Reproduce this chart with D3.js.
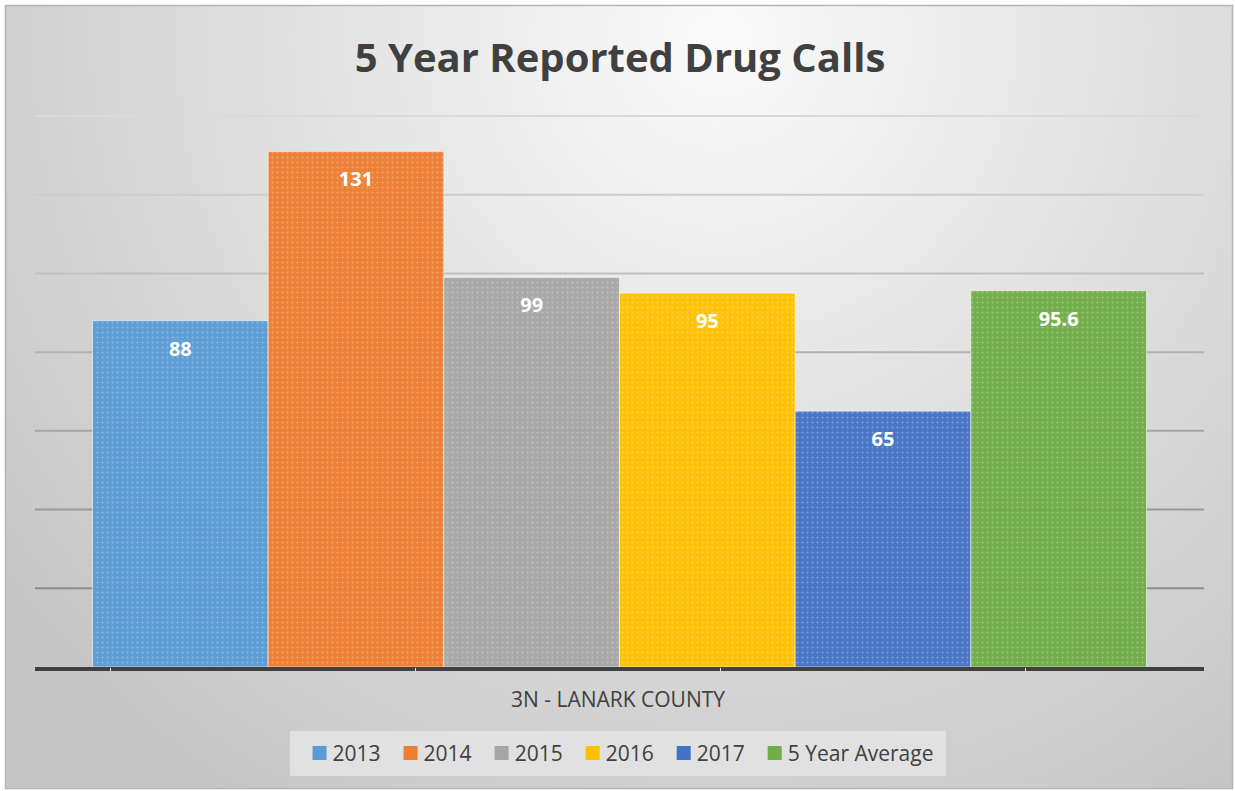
<!DOCTYPE html>
<html>
<head>
<meta charset="utf-8">
<script src="https://cdn.jsdelivr.net/npm/d3@7"></script>
<style>
    html, body { margin: 0; padding: 0; background: #ffffff; }
    svg { display: block; font-family: 'Open Sans', sans-serif; }
</style>
</head>
<body>
<div id="chart"></div>
<script>
// chart data
const titleText = '5 Year Reported Drug Calls';
const categoryLabel = '3N - LANARK COUNTY';
const seriesNames = ['2013', '2014', '2015', '2016', '2017', '5 Year Average'];
const seriesValues = [88, 131, 99, 95, 65, 95.6];
const seriesColors = ['#5b9bd5', '#ed7d31', '#a5a5a5', '#ffc000', '#4472c4', '#70ad47'];
const gridValues = [20, 40, 60, 80, 100, 120, 140];
const axisTickIndex = [0, 1, 2, 3];

const width = 1235;
const height = 791;

const svg = d3.select('#chart')
    .append('svg')
    .attr('width', width)
    .attr('height', height);

const defs = svg.append('defs');

// background gradient, light near the title
const bgGrad = defs.append('radialGradient')
    .attr('id', 'bg-grad')
    .attr('gradientUnits', 'userSpaceOnUse')
    .attr('cx', 720).attr('cy', 40).attr('r', 900);
bgGrad.append('stop').attr('offset', '0%').attr('stop-color', '#fbfbfb');
bgGrad.append('stop').attr('offset', '45%').attr('stop-color', '#e2e2e2');
bgGrad.append('stop').attr('offset', '100%').attr('stop-color', '#c6c6c6');

// small cross texture on the bars
const tex = defs.append('pattern')
    .attr('id', 'texture')
    .attr('patternUnits', 'userSpaceOnUse')
    .attr('width', 5).attr('height', 5);
tex.append('rect').attr('x', 2).attr('y', 1).attr('width', 1).attr('height', 3)
    .attr('fill', '#ffffff').attr('opacity', 0.14);
tex.append('rect').attr('x', 1).attr('y', 2).attr('width', 3).attr('height', 1)
    .attr('fill', '#ffffff').attr('opacity', 0.14);

// background + frame
svg.append('rect')
    .attr('x', 5.5).attr('y', 5.5)
    .attr('width', 1227).attr('height', 783)
    .attr('fill', 'url(#bg-grad)')
    .attr('stroke', '#b4b4b4')
    .attr('stroke-width', 1.5);

// scales
const y = d3.scaleLinear()
    .domain([0, 140])
    .range([667, 116]);

const x = d3.scaleBand()
    .domain(seriesNames)
    .range([92.5, 1146.5])
    .paddingInner(0)
    .paddingOuter(0);

const plotLeft = 35;
const plotRight = 1204;

const gridColor = d3.scaleLinear()
    .domain([20, 140])
    .range(['#8c8c8c', '#dadada']);

// gridlines
svg.append('g')
    .selectAll('line')
    .data(gridValues)
    .join('line')
    .attr('x1', plotLeft)
    .attr('x2', plotRight)
    .attr('y1', d => y(d))
    .attr('y2', d => y(d))
    .attr('stroke', d => gridColor(d))
    .attr('stroke-width', 2);

// bars
const bars = svg.append('g')
    .selectAll('g')
    .data(seriesNames.map((name, i) => ({ name, value: seriesValues[i], color: seriesColors[i] })))
    .join('g');

bars.append('rect')
    .attr('x', d => x(d.name))
    .attr('y', d => y(d.value))
    .attr('width', x.bandwidth())
    .attr('height', d => y(0) - y(d.value))
    .attr('fill', d => d.color)
    .attr('fill-opacity', 0.96);

bars.append('rect')
    .attr('x', d => x(d.name))
    .attr('y', d => y(d.value))
    .attr('width', x.bandwidth())
    .attr('height', d => y(0) - y(d.value))
    .attr('fill', 'url(#texture)')
    .attr('stroke', 'rgba(255,255,255,0.55)')
    .attr('stroke-width', 1);

// value labels
bars.append('text')
    .attr('x', d => x(d.name) + x.bandwidth() / 2)
    .attr('y', d => y(d.value) + 35)
    .attr('text-anchor', 'middle')
    .attr('fill', '#ffffff')
    .attr('font-weight', 700)
    .attr('font-size', '20px')
    .text(d => d.value);

// category axis line
svg.append('line')
    .attr('x1', plotLeft)
    .attr('x2', plotRight)
    .attr('y1', y(0) + 2)
    .attr('y2', y(0) + 2)
    .attr('stroke', '#404040')
    .attr('stroke-width', 4);

// small tick marks on the axis
const tickX = d3.scaleLinear().domain([0, 1]).range([110.5, 415.5]);
svg.append('g')
    .selectAll('line')
    .data(axisTickIndex)
    .join('line')
    .attr('x1', d => tickX(d))
    .attr('x2', d => tickX(d))
    .attr('y1', y(0) + 1)
    .attr('y2', y(0) + 4)
    .attr('stroke', '#ffffff')
    .attr('stroke-width', 1);

// category label
svg.append('text')
    .attr('x', 618)
    .attr('y', 707)
    .attr('text-anchor', 'middle')
    .attr('fill', '#404040')
    .attr('font-size', '21px')
    .text(categoryLabel);

// title
svg.append('text')
    .attr('x', 620)
    .attr('y', 72)
    .attr('text-anchor', 'middle')
    .attr('fill', '#404040')
    .attr('font-weight', 700)
    .attr('font-size', '40px')
    .text(titleText);

// legend
const legend = svg.append('g');
legend.append('rect')
    .attr('x', 290).attr('y', 731)
    .attr('width', 656).attr('height', 45)
    .attr('fill', '#e1e1e1');

const items = legend.selectAll('g.item')
    .data(seriesNames.map((name, i) => ({ name, color: seriesColors[i] })))
    .join('g')
    .attr('class', 'item');

items.append('rect')
    .attr('width', 14).attr('height', 14)
    .attr('y', 746)
    .attr('fill', d => d.color);

items.append('text')
    .attr('y', 761)
    .attr('fill', '#404040')
    .attr('font-size', '21px')
    .text(d => d.name);

// lay out legend items from measured text widths
const widths = [];
items.each(function () {
    widths.push(d3.select(this).select('text').node().getComputedTextLength());
});
const textOffset = 20;
const itemGap = 23;
const total = d3.sum(widths) + widths.length * textOffset + (widths.length - 1) * itemGap;
let cursor = 623 - total / 2;
items.each(function (d, i) {
    const g = d3.select(this);
    g.select('rect').attr('x', cursor);
    g.select('text').attr('x', cursor + textOffset);
    cursor += textOffset + widths[i] + itemGap;
});
</script>
</body>
</html>
